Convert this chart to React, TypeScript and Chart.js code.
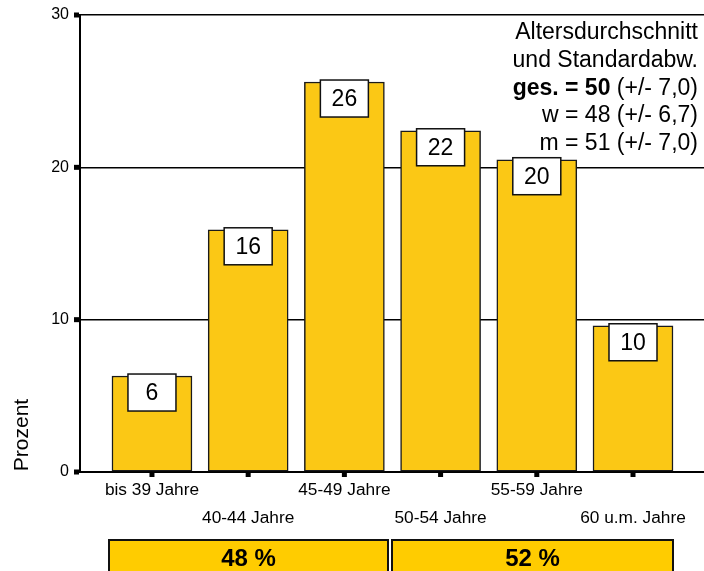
import React, { useEffect, useRef } from "react";
import { Chart, registerables } from "chart.js";

Chart.register(...registerables);

const categories = ["bis 39 Jahre", "40-44 Jahre", "45-49 Jahre", "50-54 Jahre", "55-59 Jahre", "60 u.m. Jahre"];
const percentValues = [6.3, 15.9, 25.6, 22.4, 20.5, 9.6];
const valueLabels = ["6", "16", "26", "22", "20", "10"];
const yTickValues = [0, 10, 20, 30];
const yAxisTitle = "Prozent";
const infoLines = ["Altersdurchschnitt", "und Standardabw."];
const totalLine = { bold: "ges. = 50", normal: " (+/- 7,0)" };
const genderLines = ["w = 48 (+/- 6,7)", "m = 51 (+/- 7,0)"];
const genderShares = ["48 %", "52 %"];

const FONT = '"Liberation Sans", Arial, sans-serif';
const BAR_COLOR = "#FBC815";
const BOX_COLOR = "#FFCC00";

const overlayPlugin = {
  id: "overlay",
  afterDraw(chart: any) {
    const ctx = chart.ctx as CanvasRenderingContext2D;
    const xs = chart.scales.x;
    const ys = chart.scales.y;
    const area = chart.chartArea;
    ctx.save();
    ctx.fillStyle = "#000";
    // y tick squares
    yTickValues.forEach((v) => {
      const py = ys.getPixelForValue(v);
      ctx.fillRect(area.left - 6, py - 2.5, 5, 5);
    });
    // x tick squares
    categories.forEach((_, i) => {
      const px = xs.getPixelForValue(i);
      ctx.fillRect(px - 2.5, area.bottom + 1, 5, 4);
    });
    // value label boxes
    const meta = chart.getDatasetMeta(0);
    meta.data.forEach((bar: any, i: number) => {
      const w = 48;
      const h = 37;
      const x = bar.x - w / 2;
      const y = bar.y - 2;
      ctx.fillStyle = "#fff";
      ctx.fillRect(x, y, w, h);
      ctx.strokeStyle = "#111";
      ctx.lineWidth = 1.5;
      ctx.strokeRect(x, y, w, h);
      ctx.fillStyle = "#000";
      ctx.font = `23px ${FONT}`;
      ctx.textAlign = "center";
      ctx.textBaseline = "middle";
      ctx.fillText(valueLabels[i], bar.x, y + h / 2 + 1);
    });
    // info text block
    const rightX = 698;
    const baselines = [39, 66.75, 94.5, 122.25, 150];
    ctx.textBaseline = "alphabetic";
    ctx.textAlign = "right";
    ctx.fillStyle = "#000";
    ctx.font = `23px ${FONT}`;
    ctx.fillText(infoLines[0], rightX, baselines[0]);
    ctx.fillText(infoLines[1], rightX, baselines[1]);
    const nw = ctx.measureText(totalLine.normal).width;
    ctx.fillText(totalLine.normal, rightX, baselines[2]);
    ctx.font = `bold 23px ${FONT}`;
    ctx.fillText(totalLine.bold, rightX - nw, baselines[2]);
    ctx.font = `23px ${FONT}`;
    ctx.fillText(genderLines[0], rightX, baselines[3]);
    ctx.fillText(genderLines[1], rightX, baselines[4]);
    // y axis title
    ctx.save();
    ctx.translate(22, 435);
    ctx.rotate(-Math.PI / 2);
    ctx.font = `21px ${FONT}`;
    ctx.textAlign = "center";
    ctx.textBaseline = "middle";
    ctx.fillText(yAxisTitle, 0, 0);
    ctx.restore();
    // bottom share boxes
    const boxes = [
      [109, 388],
      [392, 673],
    ];
    boxes.forEach(([l, r], i) => {
      ctx.fillStyle = BOX_COLOR;
      ctx.fillRect(l, 540, r - l, 40);
      ctx.strokeStyle = "#111";
      ctx.lineWidth = 2;
      ctx.strokeRect(l, 540, r - l, 40);
      ctx.fillStyle = "#000";
      ctx.font = `bold 24px ${FONT}`;
      ctx.textAlign = "center";
      ctx.textBaseline = "alphabetic";
      ctx.fillText(genderShares[i], (l + r) / 2, 566);
    });
    ctx.restore();
  },
};

export default function App() {
  const ref = useRef<HTMLCanvasElement>(null);
  useEffect(() => {
    document.body.style.margin = "0";
    const canvas = ref.current!;
    const chart = new Chart(canvas, {
      type: "bar",
      data: {
        datasets: [
          {
            data: percentValues.map((v, i) => ({ x: i, y: v })),
            backgroundColor: BAR_COLOR,
            borderColor: "#1a1a1a",
            borderWidth: 1.5,
            borderSkipped: false,
            barThickness: 80,
          },
        ],
      },
      plugins: [overlayPlugin],
      options: {
        animation: false,
        responsive: false,
        layout: { padding: { top: 15, left: 0, right: 0, bottom: 0 } },
        plugins: { legend: { display: false }, tooltip: { enabled: false } },
        scales: {
          x: {
            type: "linear",
            offset: false,
            min: -0.748,
            max: 5.738,
            grid: { display: false, drawTicks: false, offset: false },
            border: { display: true, color: "#000", width: 2 },
            afterBuildTicks: (scale: any) => {
              scale.ticks = categories.map((_, i) => ({ value: i }));
            },
            afterFit: (scale: any) => {
              scale.height = 99;
              scale.paddingLeft = 0;
              scale.paddingRight = 0;
            },
            ticks: {
              autoSkip: false,
              maxRotation: 0,
              minRotation: 0,
              padding: 4,
              color: "#000",
              font: { family: FONT, size: 17.3, lineHeight: 28 / 17.3 },
              callback: (value: any) => {
                const i = Math.round(Number(value));
                return i % 2 === 0 ? categories[i] : ["", categories[i]];
              },
            },
          },
          y: {
            min: 0,
            max: 30,
            afterBuildTicks: (scale: any) => {
              scale.ticks = yTickValues.map((v) => ({ value: v }));
            },
            afterFit: (scale: any) => {
              scale.width = 80;
              scale.paddingTop = 0;
              scale.paddingBottom = 0;
            },
            grid: { color: "#000", lineWidth: 1.5, drawTicks: false },
            border: { display: true, color: "#000", width: 2 },
            ticks: {
              padding: 11,
              color: "#000",
              font: { family: FONT, size: 16 },
            },
          },
        },
      },
    } as any);
    return () => chart.destroy();
  }, []);
  return (
    <div style={{ width: 704, height: 571 }}>
      <canvas ref={ref} width={704} height={571} style={{ display: "block" }} />
    </div>
  );
}
